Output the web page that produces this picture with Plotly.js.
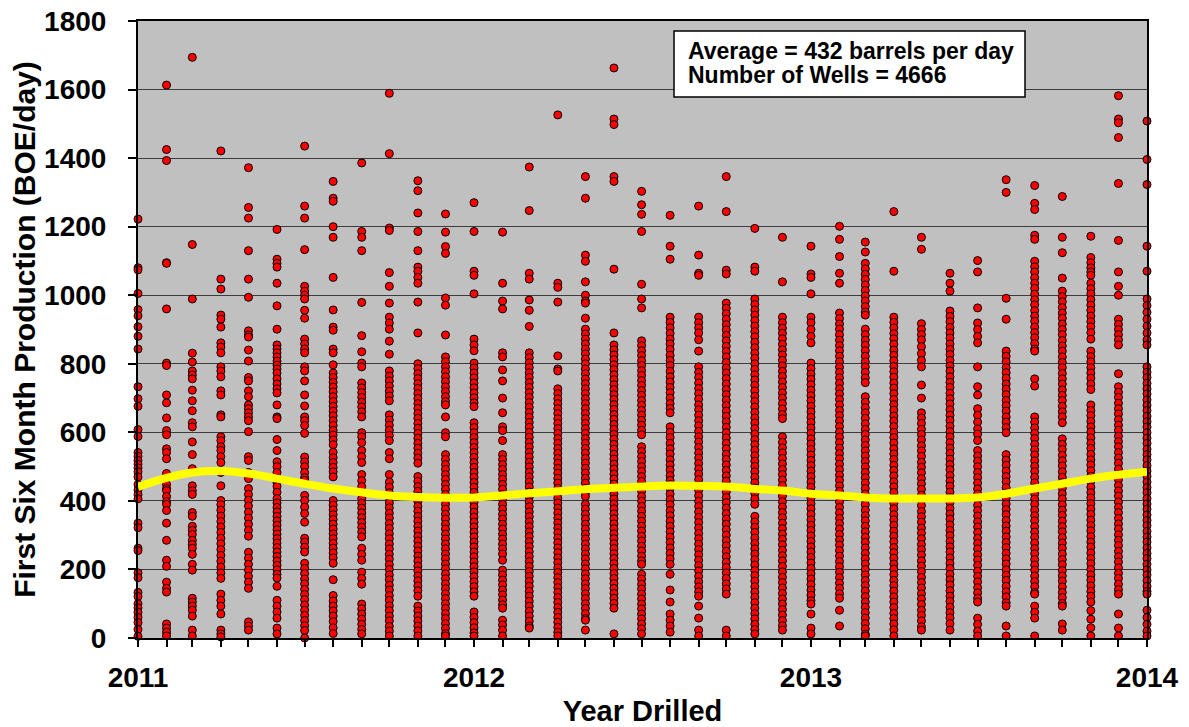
<!DOCTYPE html>
<html>
<head>
<meta charset="utf-8">
<script src="https://cdn.plot.ly/plotly-3.0.1.min.js"></script>
<style>html,body{margin:0;padding:0;background:#fff;}#chart{width:1189px;height:727px;}</style>
</head>
<body>
<div id="chart"></div>
<script>
// Month drilled (first day of each month), one column of wells per month
const months = ['2011-01-01','2011-02-01','2011-03-01','2011-04-01','2011-05-01','2011-06-01','2011-07-01','2011-08-01','2011-09-01','2011-10-01','2011-11-01','2011-12-01',
'2012-01-01','2012-02-01','2012-03-01','2012-04-01','2012-05-01','2012-06-01','2012-07-01','2012-08-01','2012-09-01','2012-10-01','2012-11-01','2012-12-01',
'2013-01-01','2013-02-01','2013-03-01','2013-04-01','2013-05-01','2013-06-01','2013-07-01','2013-08-01','2013-09-01','2013-10-01','2013-11-01','2013-12-01','2014-01-01'];
const tickLabels = ['2011','','','','','','','','','','','','2012','','','','','','','','','','','','2013','','','','','','','','','','','','2014'];

// First six month production (BOE/day) per well
const w2011_01 = [1222,1080,1074,1005,958,940,908,880,843,733,698,676,608,588,541,530,518,507,496,485,470,448,432,418,406,335,322,262,255,190,176,133,121,100,88,75,60,45,25,5];
const w2011_02 = [1613,1425,1393,1095,1093,960,802,795,709,686,642,605,593,552,541,523,480,448,436,430,413,398,390,372,335,285,227,209,163,145,134,41,29,17,6];
const w2011_03 = [1694,1148,989,831,805,779,767,756,723,692,663,628,616,572,535,494,444,430,419,366,355,326,314,302,285,273,262,244,215,198,116,105,93,81,64,23,6];
const w2011_04 = [1421,1047,1018,942,930,907,861,849,832,791,779,762,721,709,651,645,587,576,558,547,529,512,483,444,401,389,373,356,340,324,308,291,275,258,241,224,207,190,174,128,110,93,70,23,12,3];
const w2011_05 = [1372,1256,1225,1130,1047,994,896,884,878,840,808,760,750,721,704,680,669,657,645,634,602,529,518,483,465,436,419,402,385,367,350,332,314,297,250,233,215,198,180,163,145,47,35,23];
const w2011_06 = [1192,1105,1093,1082,1035,969,901,855,843,832,820,808,796,785,773,756,741,727,715,680,645,640,579,547,514,500,483,465,453,442,425,407,394,381,368,355,342,329,316,303,290,277,264,251,238,225,212,199,186,175,151,110,93,76,58,29,12];
const w2011_07 = [1435,1260,1225,1133,1026,1012,1000,989,956,933,872,858,843,832,791,779,750,709,677,645,634,620,597,528,514,500,483,468,460,416,401,382,363,338,291,280,265,251,218,203,188,172,158,142,127,112,96,81,66,51,36,22,0];
const w2011_08 = [1332,1283,1274,1200,1169,1052,957,907,898,843,832,797,773,760,746,732,718,704,690,676,662,648,634,620,606,592,578,564,542,526,512,498,485,470,401,388,374,360,346,332,318,304,290,276,262,248,234,218,170,124,108,93,79,64,48,30,13];
const w2011_09 = [1386,1186,1169,1130,979,882,835,802,791,744,730,716,702,688,674,660,645,599,587,570,547,529,512,477,459,442,407,393,379,365,351,337,323,309,295,262,244,227,192,174,157,99,85,70,55,40,25,12];
const w2011_10 = [1589,1413,1196,1189,1066,1026,977,936,919,901,866,828,779,764,750,735,720,706,692,651,636,621,606,591,576,541,523,477,455,440,424,410,394,380,364,350,334,320,304,290,274,260,244,230,214,200,184,170,154,140,124,110,94,80,64,50,34,20,6];
const w2011_11 = [1334,1305,1240,1186,1130,1082,1070,1052,1035,980,890,800,786,771,757,742,728,713,699,684,670,655,641,626,612,597,583,568,554,539,525,510,471,457,442,428,413,399,384,370,355,341,326,312,297,283,268,254,239,225,210,196,181,167,152,138,122,93,79,64,50,35,21,6];
const w2011_12 = [1237,1184,1142,1122,992,971,884,820,806,791,777,762,748,733,719,704,690,680,645,599,587,535,521,506,492,477,463,448,434,419,405,390,376,361,347,332,318,303,289,274,260,245,231,216,202,187,173,158,144,129,115,100,86,71,57,42,28,13,6];
const w2012_01 = [1270,1186,1070,1058,1004,872,855,838,802,788,773,759,744,730,715,701,686,675,628,614,599,585,570,556,541,527,512,498,483,469,454,440,425,411,396,382,367,353,338,324,309,295,280,266,251,237,222,208,193,179,164,150,135,122,76,60,45,30,15,6];
const w2012_02 = [1184,1035,983,960,832,820,782,750,700,657,616,605,576,535,521,506,492,477,463,448,434,419,405,390,376,361,347,332,318,303,289,274,260,245,227,198,184,169,155,140,126,111,97,87,52,38,23,6];
const w2012_03 = [1374,1247,1064,1047,986,956,909,832,818,803,789,774,760,745,731,716,702,687,673,658,644,629,615,600,586,571,557,542,528,513,499,484,470,455,441,426,412,397,383,368,354,339,325,310,296,281,267,252,238,223,209,194,180,165,151,136,122,107,93,78,64,49,35,29];
const w2012_04 = [1526,1035,1023,980,823,785,779,727,713,698,684,669,655,640,626,611,597,582,568,553,539,524,510,495,481,466,452,437,423,408,394,379,365,350,336,321,307,292,278,263,249,234,220,205,191,176,162,147,133,118,104,89,75,60,46,31,17,6];
const w2012_05 = [1346,1283,1117,1099,1039,1000,983,977,933,901,887,872,858,843,829,814,800,785,771,756,742,727,713,698,684,669,655,640,626,611,597,582,568,553,539,524,510,495,481,466,452,437,423,413,390,376,361,347,332,318,303,289,274,260,245,231,216,202,187,173,158,144,129,115,100,86,71,57,52,23];
const w2012_06 = [1663,1514,1498,1346,1332,1076,890,855,841,826,812,797,783,768,754,739,725,710,696,681,667,652,638,623,609,594,580,565,551,536,522,507,493,478,464,449,435,420,406,391,377,362,348,333,319,304,290,275,261,246,232,217,203,188,174,159,145,130,116,101,87,12];
const w2012_07 = [1303,1264,1236,1186,1032,989,963,867,853,838,824,809,795,780,766,751,737,722,708,693,679,664,650,635,621,606,593,558,544,529,515,500,486,471,457,442,428,413,399,384,370,355,341,326,312,297,283,268,254,239,225,215,186,172,157,143,128,114,99,85,70,56,41,27,12];
const w2012_08 = [1233,1143,1105,936,921,905,889,872,858,842,825,810,795,778,762,747,731,716,700,684,670,657,616,600,585,568,552,537,520,505,490,474,460,448,436,420,404,389,372,357,341,326,310,294,279,263,247,231,215,186,140,105,70,52,35,17];
const w2012_09 = [1260,1117,1064,1058,936,920,905,890,870,837,791,775,760,744,728,713,697,680,666,650,634,619,603,587,572,556,540,525,509,493,478,462,446,431,415,399,384,368,352,337,321,305,290,274,258,243,227,211,196,180,164,149,135,122,93,58,23,6];
const w2012_10 = [1346,1244,1073,1062,977,962,946,930,914,899,883,867,851,836,820,804,788,773,757,741,725,710,694,678,662,647,631,615,599,584,568,552,536,521,505,489,473,458,442,426,410,395,379,363,347,332,316,300,284,269,253,237,221,206,190,174,158,143,128,23,6];
const w2012_11 = [1195,1082,1070,989,973,957,942,926,910,894,879,863,847,831,816,800,784,768,753,737,721,705,690,674,658,642,627,611,595,579,564,548,532,516,501,485,469,453,438,422,406,390,355,339,323,308,292,276,260,245,229,213,197,182,166,150,134,119,103,87,71,56,40,25,12];
const w2012_12 = [1169,1039,936,920,904,889,873,857,841,826,810,794,778,763,747,731,715,700,684,668,652,640,587,571,555,540,524,508,492,477,461,445,429,414,398,382,366,351,335,319,303,288,272,256,240,225,209,193,177,162,146,130,114,99,83,67,51,36,23];
const w2013_01 = [1143,1062,1052,1004,936,920,900,880,861,802,786,770,755,739,723,707,692,676,660,644,629,613,597,581,566,550,534,518,503,487,471,455,440,424,408,392,377,361,345,329,314,298,282,266,251,235,219,203,188,172,156,140,125,109,99,70,29,12];
const w2013_02 = [1201,1163,1113,1064,1035,948,932,916,901,885,869,853,838,822,806,790,775,759,743,727,712,696,680,664,649,633,617,601,586,570,554,538,523,507,491,475,460,444,428,412,397,381,365,349,334,318,302,286,271,255,239,223,208,192,176,160,145,129,116,81,35];
const w2013_03 = [1155,1126,1093,1077,1061,1046,1030,1014,998,983,967,951,942,901,885,869,854,838,822,806,791,775,759,745,704,688,672,657,641,625,609,594,578,562,546,531,515,499,483,468,452,436,420,405,389,373,357,342,326,310,294,279,263,247,231,216,200,184,168,153,137,121,105,90,74,58,42,27,11,6];
const w2013_04 = [1244,1070,936,921,905,888,873,857,840,825,809,792,777,761,744,729,713,696,681,665,648,633,617,600,585,569,552,537,521,504,489,473,456,441,425,408,393,377,360,345,329,312,297,281,264,249,233,216,201,185,168,153,137,120,105,89,72,57,41,24,6];
const w2013_05 = [1169,1134,917,900,885,870,850,830,810,791,738,700,657,642,626,609,594,578,561,546,530,513,498,482,465,450,434,417,402,386,369,354,338,321,306,290,273,258,242,225,210,194,177,162,146,129,114,98,81,66,50,33,23];
const w2013_06 = [1064,1035,1012,954,938,923,906,890,875,858,842,827,810,794,779,762,746,731,714,698,683,666,650,635,618,602,587,570,554,539,522,506,491,474,458,443,426,410,395,378,362,347,330,314,299,282,266,251,234,218,203,186,170,155,138,122,107,90,74,59,42,23];
const w2013_07 = [1101,1068,963,919,900,880,861,791,733,709,669,650,630,610,595,576,547,531,516,500,483,468,452,435,420,404,387,372,356,339,324,308,291,276,260,243,228,212,195,180,164,147,132,116,105,58,40,20,6];
const w2013_08 = [1337,1300,991,930,837,822,806,789,774,758,741,726,710,693,678,662,645,630,614,599,535,519,504,487,471,456,439,423,408,391,375,360,343,327,312,295,279,264,247,231,216,199,183,168,151,135,120,103,93,35,6];
const w2013_09 = [1320,1268,1250,1175,1163,1099,1083,1068,1051,1035,1020,1003,987,972,955,939,924,907,891,876,859,843,837,756,735,645,630,613,597,582,565,549,534,517,501,486,469,453,438,421,405,390,373,357,342,325,309,294,277,261,246,229,213,198,181,165,150,133,128,93,75,58,6];
const w2013_10 = [1288,1169,1124,1050,1012,996,981,964,948,933,916,900,885,868,852,837,820,804,789,772,756,741,724,708,693,676,660,645,628,581,565,550,533,517,502,485,469,454,437,421,406,389,373,358,341,325,310,293,277,262,245,229,214,197,181,166,149,133,118,101,93,41,23];
const w2013_11 = [1172,1110,1095,1080,1068,1058,1035,1019,1004,987,971,956,939,923,908,891,872,837,821,806,789,773,758,741,725,680,664,649,632,616,601,584,568,553,536,520,505,488,472,457,440,424,409,392,376,361,344,328,313,296,280,265,248,232,217,200,184,169,152,136,122,105,80,55,30,6];
const w2013_12 = [1582,1514,1503,1460,1326,1160,1068,1026,1000,930,915,900,885,870,855,771,733,717,702,685,669,654,637,621,606,589,573,558,541,525,510,493,477,462,445,429,414,397,381,366,349,333,318,301,285,270,253,237,222,205,189,174,157,141,128,70,29,6];
const w2014_01 = [1508,1396,1323,1143,1070,989,970,950,930,910,890,870,855,791,775,760,743,727,712,695,679,664,647,631,616,599,583,568,551,535,520,503,487,472,455,439,424,407,391,376,359,343,328,311,295,280,263,247,232,215,199,184,167,151,136,128,81,60,40,20,6];

const wellsByMonth = [w2011_01,w2011_02,w2011_03,w2011_04,w2011_05,w2011_06,w2011_07,w2011_08,w2011_09,w2011_10,w2011_11,w2011_12,
w2012_01,w2012_02,w2012_03,w2012_04,w2012_05,w2012_06,w2012_07,w2012_08,w2012_09,w2012_10,w2012_11,w2012_12,
w2013_01,w2013_02,w2013_03,w2013_04,w2013_05,w2013_06,w2013_07,w2013_08,w2013_09,w2013_10,w2013_11,w2013_12,w2014_01];

// Trend line (yellow)
const trendValues = [441,467,483,487,480,465,450,436,425,416,411,409,
410,416,422,428,434,438,442,445,444,442,435,430,
421,416,410,407,407,407,410,421,436,450,465,476,485];

const annotationLines = ['Average = 432 barrels per day','Number of Wells = 4666'];

// ---- build traces ----
const xs = [], ys = [];
wellsByMonth.forEach((vals, i) => { vals.forEach(v => { xs.push(months[i]); ys.push(v); }); });

const FONT = 'Arial, "Liberation Sans", sans-serif';

const data = [
  {type:'scatter', mode:'markers', x:xs, y:ys, cliponaxis:false, hoverinfo:'skip',
   marker:{color:'#ff0000', size:8, line:{color:'#000000', width:1}}},
  {type:'scatter', mode:'lines', x:months, y:trendValues, cliponaxis:false, hoverinfo:'skip',
   line:{color:'#ffff00', width:8, shape:'spline', smoothing:1}}
];

const L = 138, R = 1147, T = 21, B = 638;
const px2x = p => (p - L) / (R - L);
const px2y = p => (B - p) / (B - T);

const layout = {
  width:1189, height:727,
  margin:{l:L, r:1189-R, t:T, b:727-B, pad:0},
  paper_bgcolor:'#ffffff', plot_bgcolor:'#c0c0c0',
  showlegend:false,
  font:{family:FONT, color:'#000000'},
  xaxis:{type:'date', range:['2011-01-01','2014-01-01'], tickmode:'array', tickvals:months, ticktext:tickLabels,
    ticks:'outside', ticklen:7, tickwidth:2, tickcolor:'#000', showline:true, linecolor:'#000', linewidth:2, mirror:true,
    showgrid:false, zeroline:false, tickfont:{size:28, weight:'bold', family:FONT}, ticklabelstandoff:6,
    title:{text:'Year Drilled', font:{size:29, weight:'bold', family:FONT}, standoff:10}, automargin:false},
  yaxis:{range:[0,1800], dtick:200, tick0:0, ticks:'outside', ticklen:8, tickwidth:2, tickcolor:'#000',
    showline:true, linecolor:'#000', linewidth:2, mirror:true,
    showgrid:true, gridcolor:'#3c3c3c', gridwidth:1, zeroline:false,
    tickfont:{size:28, weight:'bold', family:FONT}, ticklabelstandoff:16,
    title:{text:'First Six Month Production (BOE/day)', font:{size:30, weight:'bold', family:FONT}, standoff:0}, automargin:false},
  shapes:[{type:'rect', xref:'paper', yref:'paper', x0:px2x(674), x1:px2x(1025), y0:px2y(97), y1:px2y(31),
    fillcolor:'#ffffff', line:{color:'#000000', width:1.5}, layer:'above'}],
  annotations:[
    {xref:'paper', yref:'paper', x:px2x(686), y:px2y(51), xanchor:'left', yanchor:'middle', showarrow:false,
     text:annotationLines[0], font:{size:23, weight:'bold', family:FONT, color:'#000'}},
    {xref:'paper', yref:'paper', x:px2x(686), y:px2y(75), xanchor:'left', yanchor:'middle', showarrow:false,
     text:annotationLines[1], font:{size:23, weight:'bold', family:FONT, color:'#000'}}
  ]
};

Plotly.newPlot('chart', data, layout, {staticPlot:true, displayModeBar:false});
</script>
</body>
</html>
